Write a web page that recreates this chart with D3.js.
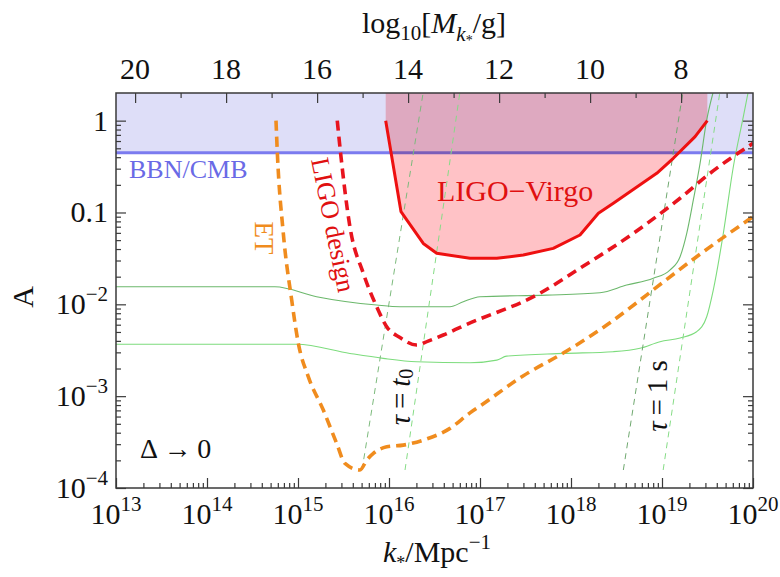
<!DOCTYPE html>
<html>
<head>
<meta charset="utf-8">
<script src="https://cdn.jsdelivr.net/npm/d3@7"></script>
<style>
  body { margin: 0; background: #fff; }
  svg text { font-family: "Liberation Serif", "Times New Roman", serif; }
</style>
</head>
<body>
<svg id="chart" width="780" height="577"></svg>
<script>
// ---- axis ranges and ticks ----
const kDomain = [1e13, 1e20];
const aDomain = [1e-4, 2];
const massDomain = [20.42, 6.42];           // log10[M/g] at the left and right edges
const kMajor = [1e13, 1e14, 1e15, 1e16, 1e17, 1e18, 1e19, 1e20];
const kExponents = ["13", "14", "15", "16", "17", "18", "19", "20"];
const aMajor = [1e-4, 1e-3, 1e-2, 0.1, 1];
const aLabelBase = ["10", "10", "10", "0.1", "1"];
const aLabelExp = ["\u22124", "\u22123", "\u22122", "", ""];
const massMajor = [20, 18, 16, 14, 12, 10, 8];
const massMinor = [19, 17, 15, 13, 11, 9, 7];

// ---- BBN/CMB bound ----
const bbnLimit = 0.448;

// ---- LIGO–Virgo excluded region (boundary) ----
const lvK = [9.2e15, 1.355e16, 1.567e16, 2.38e16, 3.34e16, 7.76e16, 1.53e17, 2.99e17,
             6.38e17, 1.256e18, 2.0e18, 2.92e18, 8.75e18, 1.33e19, 2.31e19, 3.15e19];
const lvA = [1.0, 0.102, 0.083, 0.046, 0.036, 0.0317, 0.0317, 0.0344,
             0.0407, 0.0569, 0.098, 0.126, 0.267, 0.389, 0.67, 1.0];

// ---- LIGO design sensitivity ----
const ldK = [2.70e15, 2.94e15, 3.72e15, 5.22e15, 7.33e15, 9.44e15, 1.32e16, 2.01e16,
             2.69e16, 3.95e16, 6.56e16, 4.56e17, 1.256e18, 4.84e18, 1.58e19, 3.37e19, 1e20];
const ldA = [1.0, 0.44, 0.070, 0.0218, 0.0094, 0.0057, 0.00435, 0.0036,
             0.00398, 0.00463, 0.00583, 0.0132, 0.0247, 0.0593, 0.143, 0.267, 0.567];

// ---- Einstein Telescope sensitivity ----
const etK = [5.73e14, 5.93e14, 6.89e14, 8.53e14, 1.007e15, 1.297e15, 1.897e15, 2.66e15,
             3.28e15, 4.80e15, 5.69e15, 6.73e15, 9.44e15, 1.435e16, 2.38e16, 4.68e16,
             7.76e16, 1e17, 2.97e17, 8.97e17, 2.47e18, 5.73e18, 7.96e18, 2.40e19, 1e20];
const etA = [1.0, 0.445, 0.0598, 0.0111, 3.79e-3, 1.63e-3, 7.06e-4, 3.06e-4,
             1.85e-4, 1.57e-4, 2.01e-4, 2.38e-4, 2.81e-4, 2.93e-4, 3.32e-4, 4.46e-4,
             6.58e-4, 7.8e-4, 1.66e-3, 3.10e-3, 5.95e-3, 0.0111, 0.0143, 0.033, 0.09];

// ---- thin green contours ----
const gUpK = [1e13, 5.58e14, 1.60e15, 7.33e15, 1.32e16, 4.68e16, 6.55e16, 1e17, 5.41e17,
              2.08e18, 4.09e18, 8.02e18, 1.22e19, 1.58e19, 1.87e19, 2.21e19, 2.62e19, 3.10e19, 3.63e19];
const gUpA = [0.01555, 0.01555, 0.0121, 0.00982, 0.00942, 0.00942, 0.01067, 0.0121, 0.0126,
              0.01337, 0.0162, 0.0192, 0.0236, 0.033, 0.0593, 0.137, 0.343, 1.02, 2.0];
const gLoK = [1e13, 9.68e14, 3.72e15, 8.65e15, 2.01e16, 7.76e16, 1.53e17, 1.96e17, 8.24e17,
              2.92e18, 5.73e18, 9.51e18, 1.58e19, 2.40e19, 3.10e19, 3.66e19, 4.72e19, 6.08e19, 7.82e19, 8.81e19];
const gLoA = [0.00367, 0.00367, 0.00292, 0.00258, 0.00237, 0.00231, 0.00247, 0.00273, 0.00292,
              0.00305, 0.00332, 0.00392, 0.0043, 0.00503, 0.00733, 0.0143, 0.0593, 0.315, 1.1, 2.0];

// ---- lifetime lines (tau = t0 and tau = 1 s), endpoints ----
const tauT0LeftK = [5.05e15, 2.37e16],  tauT0LeftA = [1.57e-4, 2];
const tauT0RightK = [1.50e16, 6.0e16],  tauT0RightA = [1.57e-4, 2];
const tau1sLeftK = [3.76e18, 1.69e19],  tau1sLeftA = [1.57e-4, 2];
const tau1sRightK = [1.03e19, 4.31e19], tau1sRightA = [1.57e-4, 2];

// ---- layout ----
const box = { l: 116, r: 753, t: 93, b: 488 };
const FS = 30, SUP = 21;

const x = d3.scaleLog().domain(kDomain).range([box.l, box.r]);
const y = d3.scaleLog().domain(aDomain).range([box.b, box.t]);
const xm = d3.scaleLinear().domain(massDomain).range([box.l, box.r]);

const svg = d3.select("#chart");
svg.append("rect").attr("width", 780).attr("height", 577).attr("fill", "#fff");

svg.append("defs").append("clipPath").attr("id", "plotClip")
  .append("rect").attr("x", box.l).attr("y", box.t)
  .attr("width", box.r - box.l).attr("height", box.b - box.t);

const plot = svg.append("g").attr("clip-path", "url(#plotClip)");

const zip = (ks, as) => ks.map((k, i) => ({ k: k, a: as[i] }));
const line = d3.line().x(d => x(d.k)).y(d => y(d.a));
const smooth = d3.line().x(d => x(d.k)).y(d => y(d.a)).curve(d3.curveMonotoneX);

// BBN/CMB excluded band
plot.append("rect")
  .attr("x", box.l).attr("y", y(aDomain[1]))
  .attr("width", box.r - box.l).attr("height", y(bbnLimit) - y(aDomain[1]))
  .attr("fill", "#dedef8");
plot.append("line")
  .attr("x1", box.l).attr("x2", box.r)
  .attr("y1", y(bbnLimit)).attr("y2", y(bbnLimit))
  .attr("stroke", "#7b7bef").attr("stroke-width", 3);

// LIGO–Virgo excluded region
const lv = zip(lvK, lvA);
plot.append("path")
  .datum(lv)
  .attr("d", d3.area().x(d => x(d.k)).y0(y(aDomain[1])).y1(d => y(d.a)))
  .attr("fill", "#ffc2c6")
  .style("mix-blend-mode", "multiply");

// thin green contours
plot.append("path").datum(zip(gUpK, gUpA)).attr("d", smooth)
  .attr("fill", "none").attr("stroke", "#6cb86c").attr("stroke-width", 1.1);
plot.append("path").datum(zip(gLoK, gLoA)).attr("d", smooth)
  .attr("fill", "none").attr("stroke", "#7ddc7d").attr("stroke-width", 1.1);

// lifetime lines
[[tauT0LeftK, tauT0LeftA, "#7cba7c"], [tauT0RightK, tauT0RightA, "#86dc86"],
 [tau1sLeftK, tau1sLeftA, "#6fa86f"], [tau1sRightK, tau1sRightA, "#86dc86"]]
  .forEach(([ks, as, c]) => {
    plot.append("path").datum(zip(ks, as)).attr("d", line)
      .attr("fill", "none").attr("stroke", c).attr("stroke-width", 1)
      .attr("stroke-dasharray", "6,5");
  });

// detector sensitivities
plot.append("path").datum(zip(etK, etA)).attr("d", smooth)
  .attr("fill", "none").attr("stroke", "#f08c1e").attr("stroke-width", 3.6)
  .attr("stroke-dasharray", "10,6");
plot.append("path").datum(zip(ldK, ldA)).attr("d", smooth)
  .attr("fill", "none").attr("stroke", "#e8141e").attr("stroke-width", 3.6)
  .attr("stroke-dasharray", "10,6");
plot.append("path").datum(lv).attr("d", line)
  .attr("fill", "none").attr("stroke", "#ee1010").attr("stroke-width", 3)
  .attr("stroke-linejoin", "round");

// ---- frame and ticks ----
const tickCol = "#3a3a3a";
function minorLog(lo, hi) {
  const out = [];
  for (let e = lo; e < hi; e++) for (let m = 2; m <= 9; m++) out.push(m * Math.pow(10, e));
  return out;
}
const kMinor = minorLog(13, 20);
const aMinor = minorLog(-4, 1).concat([2]);

function tickGroup(axis, tx, ty) {
  const g = svg.append("g").attr("transform", `translate(${tx},${ty})`).call(axis);
  g.select(".domain").remove();
  g.selectAll(".tick line").attr("stroke", tickCol).attr("stroke-width", 1.2);
  g.selectAll(".tick text").remove();
  return g;
}
// bottom
tickGroup(d3.axisTop(x).tickValues(kMajor).tickSize(10), 0, box.b);
tickGroup(d3.axisTop(x).tickValues(kMinor).tickSize(5), 0, box.b);
// left
tickGroup(d3.axisRight(y).tickValues(aMajor).tickSize(10), box.l, 0);
tickGroup(d3.axisRight(y).tickValues(aMinor.filter(v => v < aDomain[1])).tickSize(5), box.l, 0);
// right
tickGroup(d3.axisLeft(y).tickValues(aMajor).tickSize(10), box.r, 0);
tickGroup(d3.axisLeft(y).tickValues(aMinor.filter(v => v < aDomain[1])).tickSize(5), box.r, 0);
// top (mass)
tickGroup(d3.axisBottom(xm).tickValues(massMajor).tickSize(10), 0, box.t);
tickGroup(d3.axisBottom(xm).tickValues(massMinor).tickSize(5), 0, box.t);

svg.append("rect")
  .attr("x", box.l).attr("y", box.t).attr("width", box.r - box.l).attr("height", box.b - box.t)
  .attr("fill", "none").attr("stroke", tickCol).attr("stroke-width", 1.5);

// ---- rich text helper (sub/superscripts via baseline offsets) ----
function rich(sel, parts) {
  let cur = 0;
  parts.forEach(p => {
    const off = p.off || 0;
    const ts = sel.append("tspan").text(p.t).attr("dy", off - cur);
    cur = off;
    if (p.fs) ts.attr("font-size", p.fs);
    if (p.it) ts.attr("font-style", "italic");
  });
  return sel;
}

// bottom tick labels
kMajor.forEach((k, i) => {
  const t = svg.append("text").attr("x", x(k)).attr("y", 524)
    .attr("text-anchor", "middle").attr("font-size", FS).attr("fill", "#111");
  rich(t, [{ t: "10" }, { t: kExponents[i], off: -13, fs: SUP }]);
});
// left tick labels
aMajor.forEach((a, i) => {
  const t = svg.append("text").attr("x", 108).attr("y", y(a) + 10)
    .attr("text-anchor", "end").attr("font-size", FS).attr("fill", "#111");
  const parts = [{ t: aLabelBase[i] }];
  if (aLabelExp[i]) parts.push({ t: aLabelExp[i], off: -13, fs: SUP });
  rich(t, parts);
});
// top tick labels
massMajor.forEach(mv => {
  svg.append("text").attr("x", xm(mv)).attr("y", 79)
    .attr("text-anchor", "middle").attr("font-size", FS).attr("fill", "#111").text(mv);
});

// axis titles
rich(svg.append("text").attr("x", 434).attr("y", 33).attr("text-anchor", "middle")
  .attr("font-size", FS).attr("fill", "#111"),
  [{ t: "log" }, { t: "10", off: 7, fs: SUP }, { t: "[" }, { t: "M", it: true },
   { t: "k", off: 8, fs: SUP, it: true }, { t: "*", off: 12, fs: 14 }, { t: "/g]" }]);

rich(svg.append("text").attr("x", 437).attr("y", 562).attr("text-anchor", "middle")
  .attr("font-size", FS).attr("fill", "#111"),
  [{ t: "k", it: true }, { t: "*", off: 7, fs: 18 }, { t: "/Mpc" }, { t: "\u22121", off: -13, fs: SUP }]);

svg.append("text").attr("transform", "translate(33,297) rotate(-90)")
  .attr("text-anchor", "middle").attr("font-size", FS).attr("fill", "#111").text("A");

// ---- annotations ----
svg.append("text").attr("x", 129).attr("y", 178).attr("font-size", 26)
  .attr("fill", "#6a6ae6").text("BBN/CMB");
svg.append("text").attr("x", 437).attr("y", 201).attr("font-size", 30)
  .attr("fill", "#e01010").text("LIGO\u2212Virgo");
svg.append("text").attr("transform", "translate(264,238) rotate(90)")
  .attr("text-anchor", "middle").attr("dominant-baseline", "central")
  .attr("font-size", 27).attr("fill", "#f08c1e").text("ET");
svg.append("text").attr("transform", "translate(333,225) rotate(78.4)")
  .attr("text-anchor", "middle").attr("dominant-baseline", "central")
  .attr("font-size", 26).attr("fill", "#e01010").text("LIGO design");
rich(svg.append("text").attr("transform", "translate(400,397) rotate(-90)")
  .attr("text-anchor", "middle").attr("dominant-baseline", "central")
  .attr("font-size", 29).attr("fill", "#111"),
  [{ t: "\u03c4", it: true }, { t: "\u2009=\u2009" }, { t: "t", it: true }, { t: "0", off: 6, fs: 20 }]);
svg.append("text").attr("transform", "translate(657,396) rotate(-90)")
  .attr("text-anchor", "middle").attr("dominant-baseline", "central")
  .attr("font-size", 29).attr("fill", "#111")
  .call(t => rich(t, [{ t: "\u03c4", it: true }, { t: "\u2009=\u20091 s" }]));
svg.append("text").attr("x", 140).attr("y", 458).attr("font-size", 28)
  .attr("fill", "#111").text("\u0394\u2009\u2192\u20090");
</script>
</body>
</html>
